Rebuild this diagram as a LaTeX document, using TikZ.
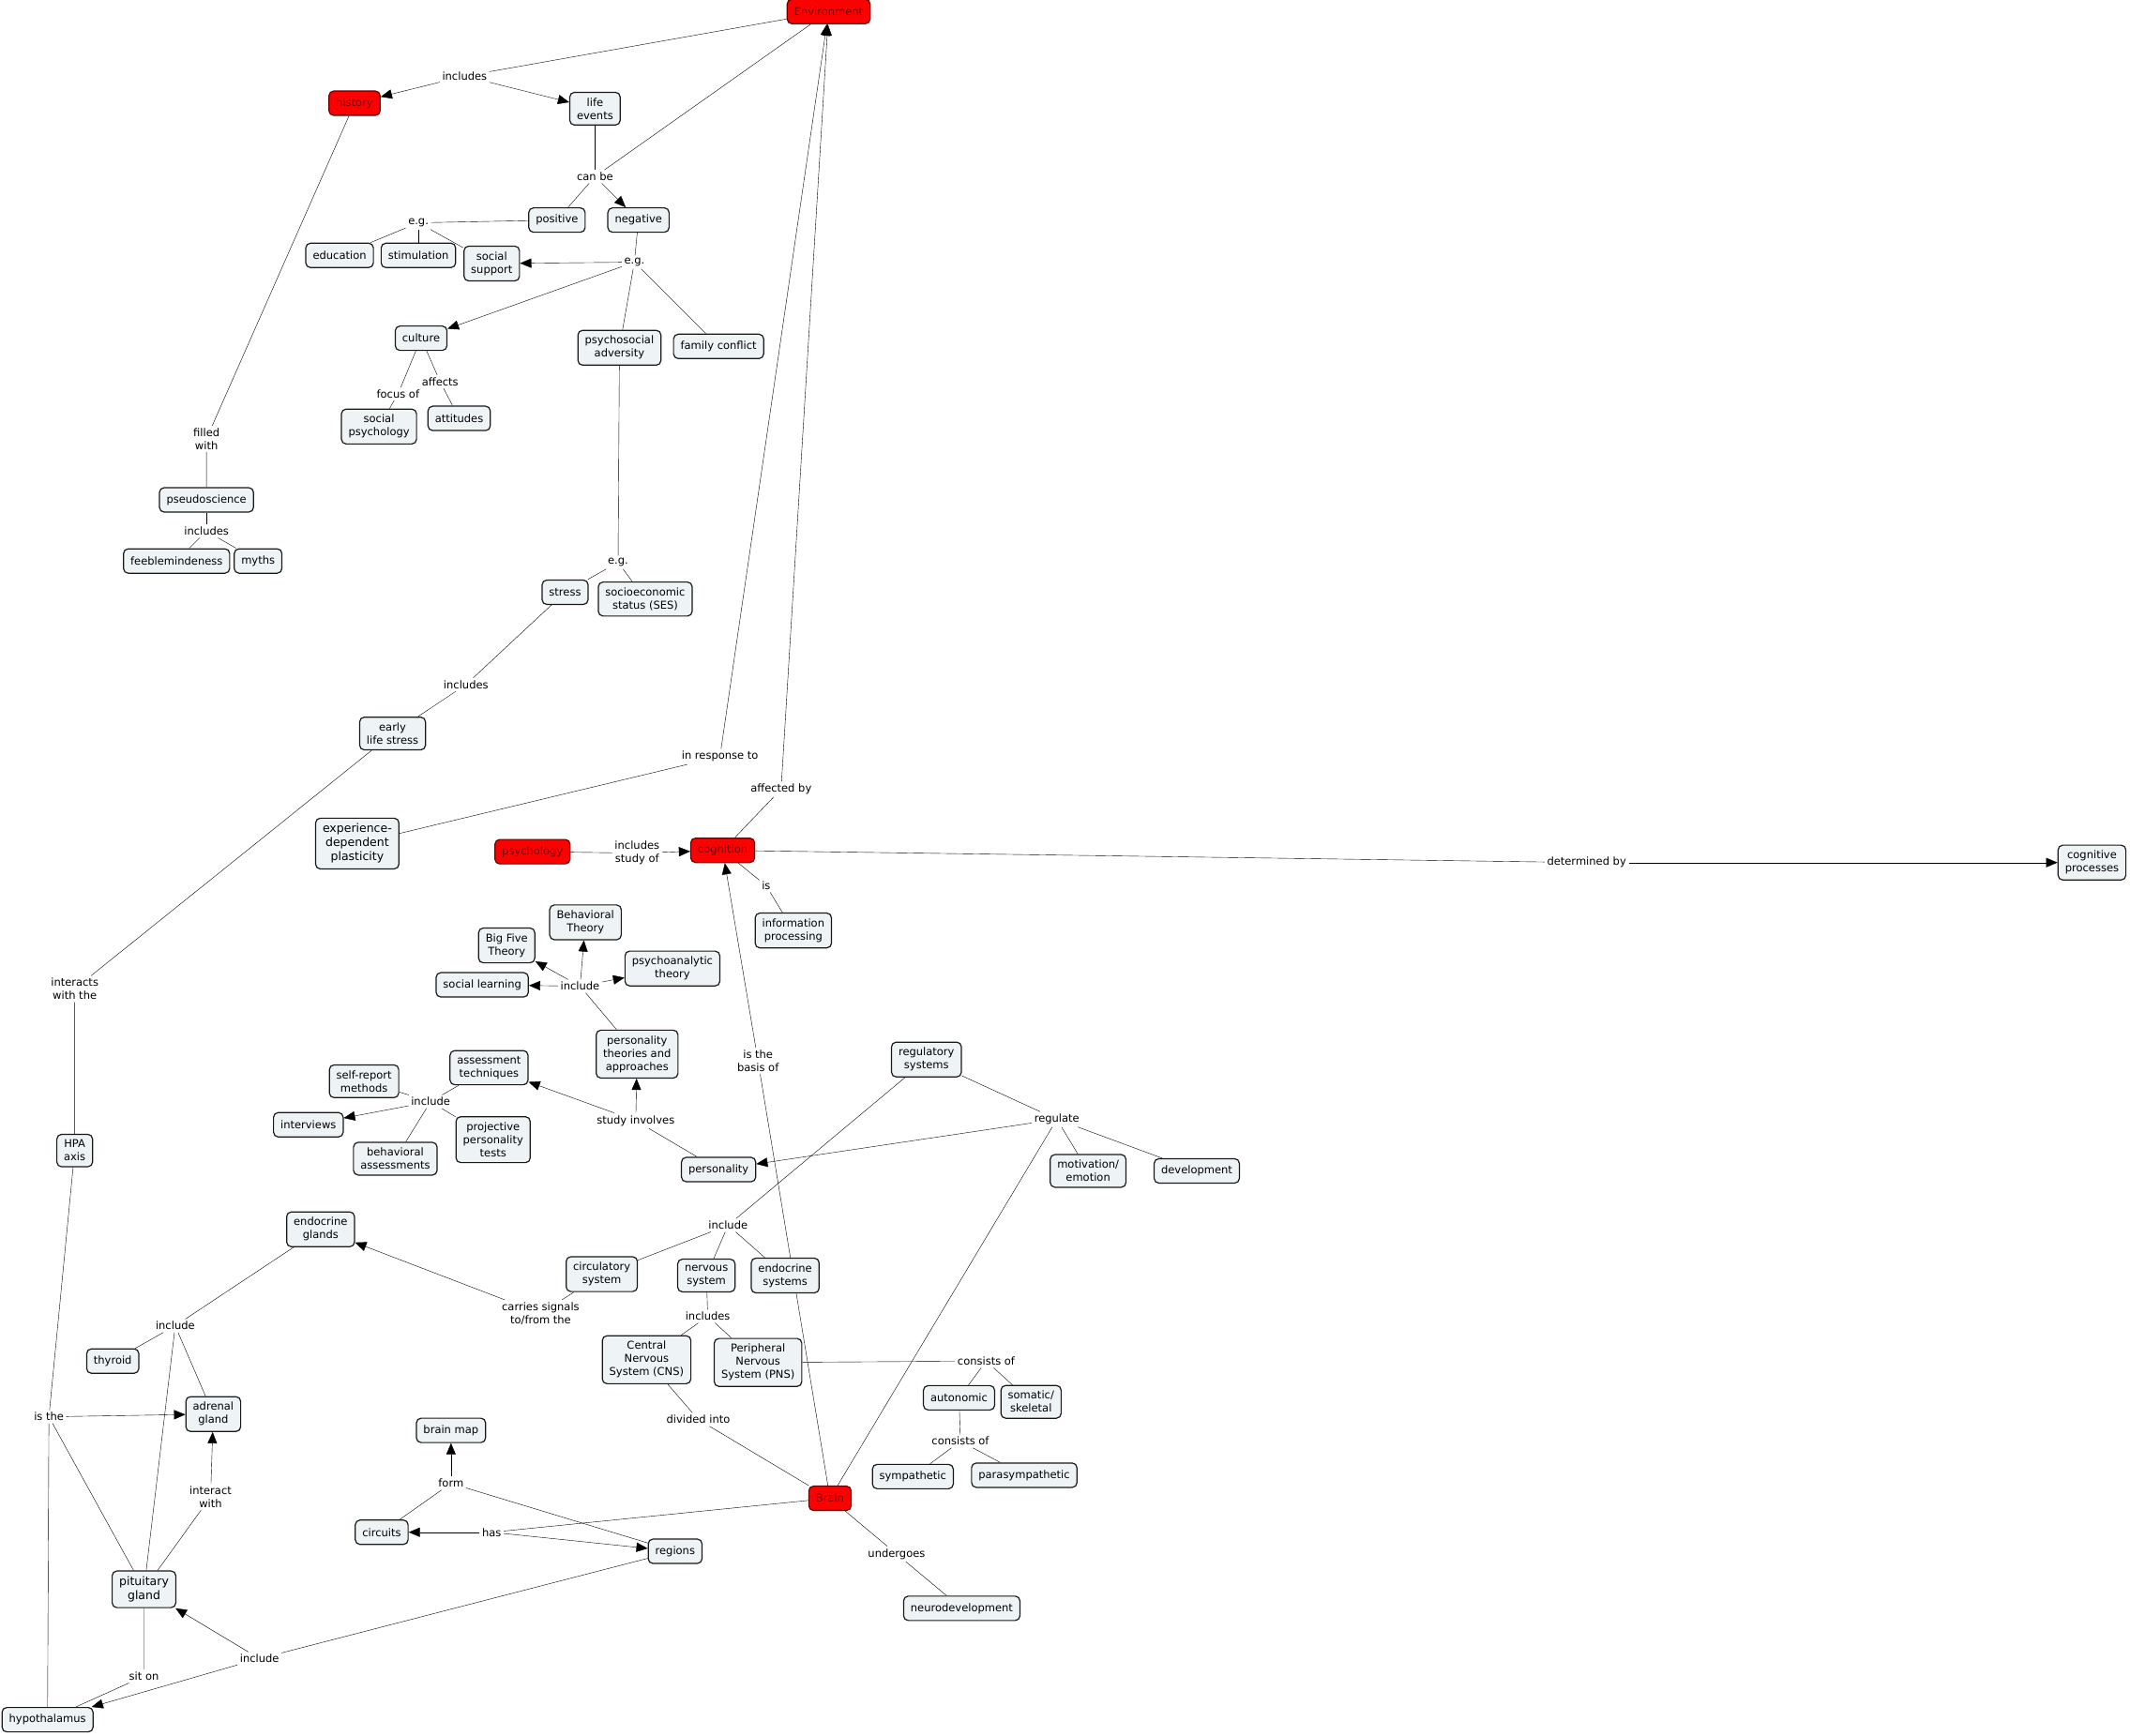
\documentclass[tikz,border=0pt]{standalone}
\usepackage{fontspec}
\setmainfont{DejaVu Sans}
\usetikzlibrary{arrows.meta, backgrounds}

\definecolor{conceptfill}{RGB}{238,243,245}
\definecolor{keyfill}{RGB}{255,0,0}
\definecolor{keytext}{RGB}{120,0,0}

\begin{document}
\begin{tikzpicture}[
    x=1.4483pt, y=-1.4483pt,
    font=\fontsize{11.5}{14}\selectfont,
    concept/.style={draw=black!90, rectangle, rounded corners=5pt, fill=conceptfill,
                    align=center, inner xsep=7.5pt, inner ysep=6pt, minimum height=26pt,
                    line width=1.2pt},
    keynode/.style={concept, fill=keyfill, draw=black!60!red, text=keytext},
    bigtext/.style={font=\fontsize{12.5}{15}\selectfont},
    link/.style={inner sep=2.5pt, align=center, text=black},
    arrow/.style={-{Triangle[length=12pt, width=10pt]}},
    conn/.style={line width=1.3pt, black}
]
\useasboundingbox (0,0) rectangle (1568,1278);

% concepts
\node[keynode] (env) at (610,8.5) {Environment};
\node[keynode] (history) at (261,76) {history};
\node[concept] (lifeev) at (438,80) {life\\events};
\node[concept] (positive) at (410,162) {positive};
\node[concept] (negative) at (470,162) {negative};
\node[concept] (education) at (250,188) {education};
\node[concept] (stimulation) at (308,188) {stimulation};
\node[concept] (socsupport) at (362,194) {social\\support};
\node[concept] (culture) at (310,249) {culture};
\node[concept] (psychadv) at (456,256) {psychosocial\\adversity};
\node[concept] (famconf) at (529,255) {family conflict};
\node[concept] (socpsych) at (279,314) {social\\psychology};
\node[concept] (attitudes) at (338,308) {attitudes};
\node[concept] (pseudo) at (152,368) {pseudoscience};
\node[concept] (feeble) at (130,413) {feeblemindeness};
\node[concept] (myths) at (190,413) {myths};
\node[concept] (stress) at (416,436) {stress};
\node[concept] (ses) at (475,441) {socioeconomic\\status (SES)};
\node[concept] (earlystress) at (289,540) {early\\life stress};
\node[concept, bigtext] (plasticity) at (263,621) {experience-\\dependent\\plasticity};
\node[keynode] (psychology) at (392,627) {psychology};
\node[keynode] (cognition) at (532,626) {cognition};
\node[concept] (cogproc) at (1540,635) {cognitive\\processes};
\node[concept] (infoproc) at (584,685) {information\\processing};
\node[concept] (behavtheory) at (431,679) {Behavioral\\Theory};
\node[concept] (bigfive) at (373,696) {Big Five\\Theory};
\node[concept] (soclearn) at (355,725) {social learning};
\node[concept] (psychoan) at (495,713) {psychoanalytic\\theory};
\node[concept] (perstheory) at (469,776) {personality\\theories and\\approaches};
\node[concept] (assess) at (360,786) {assessment\\techniques};
\node[concept] (selfrep) at (268,796) {self-report\\methods};
\node[concept] (interviews) at (227,828) {interviews};
\node[concept] (behassess) at (291,853) {behavioral\\assessments};
\node[concept] (projective) at (363,839) {projective\\personality\\tests};
\node[concept] (personality) at (529,861) {personality};
\node[concept] (regsys) at (682,780) {regulatory\\systems};
\node[concept] (motivation) at (801,862) {motivation/\\emotion};
\node[concept] (development) at (881,862) {development};
\node[concept] (hpa) at (55,847) {HPA\\axis};
\node[concept] (endoglands) at (236,905) {endocrine\\glands};
\node[concept] (circsys) at (443,938) {circulatory\\system};
\node[concept] (nervsys) at (520,939) {nervous\\system};
\node[concept] (endosys) at (578,939) {endocrine\\systems};
\node[concept] (cns) at (476,1001) {Central\\Nervous\\System (CNS)};
\node[concept] (pns) at (558,1003) {Peripheral\\Nervous\\System (PNS)};
\node[concept] (autonomic) at (706,1029) {autonomic};
\node[concept] (somatic) at (759,1032) {somatic/\\skeletal};
\node[concept] (sympathetic) at (672,1087) {sympathetic};
\node[concept] (parasymp) at (754,1086) {parasympathetic};
\node[concept] (thyroid) at (83,1002) {thyroid};
\node[concept] (adrenal) at (157,1041) {adrenal\\gland};
\node[concept] (brainmap) at (332,1053) {brain map};
\node[concept] (circuits) at (281,1128) {circuits};
\node[concept] (regions) at (497,1142) {regions};
\node[concept, bigtext] (pituitary) at (106,1170) {pituitary\\gland};
\node[concept] (hypothal) at (35,1266) {hypothalamus};
\node[keynode] (brain) at (611,1103) {Brain};
\node[concept] (neurodev) at (708,1184) {neurodevelopment};

% linking phrases
\node[link] (incl1) at (342,56) {includes};
\node[link] (canbe) at (438,130) {can be};
\node[link] (eg1) at (308,164) {e.g.};
\node[link] (eg2) at (467,193) {e.g.};
\node[link] (focus) at (293,290) {focus of};
\node[link] (affects) at (324,281) {affects};
\node[link] (filled) at (152,323) {filled\\with};
\node[link] (incl2) at (152,391) {includes};
\node[link] (eg3) at (455,414) {e.g.};
\node[link] (incl3) at (343,504) {includes};
\node[link] (inresp) at (530,557) {in response to};
\node[link] (affby) at (575,581) {affected by};
\node[link] (inclstudy) at (469,628) {includes\\study of};
\node[link] (detby) at (1168,635) {determined by};
\node[link] (is) at (564,652) {is};
\node[link] (incl4) at (427,726) {include};
\node[link] (incl5) at (317,811) {include};
\node[link] (studyinv) at (468,825) {study involves};
\node[link] (basis) at (558,781) {is the\\basis of};
\node[link] (regulate) at (778,824) {regulate};
\node[link] (interacts) at (55,728) {interacts\\with the};
\node[link] (incl6) at (536,902) {include};
\node[link] (carries) at (398,967) {carries signals\\to/from the};
\node[link] (incl7) at (521,969) {includes};
\node[link] (consists1) at (726,1002) {consists of};
\node[link] (consists2) at (707,1061) {consists of};
\node[link] (divided) at (514,1045) {divided into};
\node[link] (incl8) at (129,976) {include};
\node[link] (isthe) at (36,1043) {is the};
\node[link] (interact) at (155,1102) {interact\\with};
\node[link] (form) at (332,1092) {form};
\node[link] (has) at (362,1128) {has};
\node[link] (undergoes) at (660,1144) {undergoes};
\node[link] (incl9) at (191,1221) {include};
\node[link] (siton) at (106,1234) {sit on};

% connections, kept under the boxes
\begin{scope}[on background layer, conn]
\draw (env) -- (incl1);
\draw[arrow] (incl1) -- (history);
\draw[arrow] (incl1) -- (lifeev);
\draw (lifeev) -- (canbe);
\draw (env) -- (canbe);
\draw (canbe) -- (positive);
\draw[arrow] (canbe) -- (negative);
\draw (positive) -- (eg1);
\draw (eg1) -- (education);
\draw (eg1) -- (stimulation);
\draw (eg1) -- (socsupport);
\draw (negative) -- (eg2);
\draw[arrow] (eg2) -- (socsupport);
\draw[arrow] (eg2) -- (culture);
\draw (eg2) -- (psychadv);
\draw (eg2) -- (famconf);
\draw (culture) -- (focus) -- (socpsych);
\draw (culture) -- (affects) -- (attitudes);
\draw (history) -- (filled) -- (pseudo);
\draw (pseudo) -- (incl2);
\draw (incl2) -- (feeble);
\draw (incl2) -- (myths);
\draw (psychadv) -- (eg3);
\draw (eg3) -- (stress);
\draw (eg3) -- (ses);
\draw (stress) -- (incl3) -- (earlystress);
\draw (earlystress) -- (interacts) -- (hpa);
\draw (plasticity) -- (inresp);
\draw[arrow] (inresp) -- (env);
\draw (cognition) -- (affby);
\draw[arrow] (affby) -- (env);
\draw (psychology) -- (inclstudy);
\draw[arrow] (inclstudy) -- (cognition);
\draw (cognition) -- (detby);
\draw[arrow] (detby) -- (cogproc);
\draw (cognition) -- (is) -- (infoproc);
\draw (perstheory) -- (incl4);
\draw[arrow] (incl4) -- (bigfive);
\draw[arrow] (incl4) -- (behavtheory);
\draw[arrow] (incl4) -- (psychoan);
\draw[arrow] (incl4) -- (soclearn);
\draw (personality) -- (studyinv);
\draw[arrow] (studyinv) -- (perstheory);
\draw[arrow] (studyinv) -- (assess);
\draw (assess) -- (incl5);
\draw[arrow] (incl5) -- (interviews);
\draw (incl5) -- (selfrep);
\draw (incl5) -- (behassess);
\draw (incl5) -- (projective);
\draw (brain) -- (basis);
\draw[arrow] (basis) -- (cognition);
\draw (regsys) -- (regulate);
\draw[arrow] (regulate) -- (personality);
\draw (regulate) -- (motivation);
\draw (regulate) -- (development);
\draw (regulate) -- (brain);
\draw (regsys) -- (incl6);
\draw (incl6) -- (circsys);
\draw (incl6) -- (nervsys);
\draw (incl6) -- (endosys);
\draw (nervsys) -- (incl7);
\draw (incl7) -- (cns);
\draw (incl7) -- (pns);
\draw (pns) -- (consists1);
\draw (consists1) -- (autonomic);
\draw (consists1) -- (somatic);
\draw (autonomic) -- (consists2);
\draw (consists2) -- (sympathetic);
\draw (consists2) -- (parasymp);
\draw (cns) -- (divided) -- (brain);
\draw (circsys) -- (carries);
\draw[arrow] (carries) -- (endoglands);
\draw (endoglands) -- (incl8);
\draw (incl8) -- (thyroid);
\draw (incl8) -- (adrenal);
\draw (incl8) -- (pituitary);
\draw (hpa) -- (isthe);
\draw[arrow] (isthe) -- (adrenal);
\draw (isthe) -- (pituitary);
\draw (isthe) -- (hypothal);
\draw (pituitary) -- (interact);
\draw[arrow] (interact) -- (adrenal);
\draw (pituitary) -- (siton) -- (hypothal);
\draw (regions) -- (incl9);
\draw[arrow] (incl9) -- (pituitary);
\draw[arrow] (incl9) -- (hypothal);
\draw (brain) -- (has);
\draw[arrow] (has) -- (circuits);
\draw[arrow] (has) -- (regions);
\draw (circuits) -- (form);
\draw (regions) -- (form);
\draw[arrow] (form) -- (brainmap);
\draw (brain) -- (undergoes) -- (neurodev);
\end{scope}

\end{tikzpicture}
\end{document}
